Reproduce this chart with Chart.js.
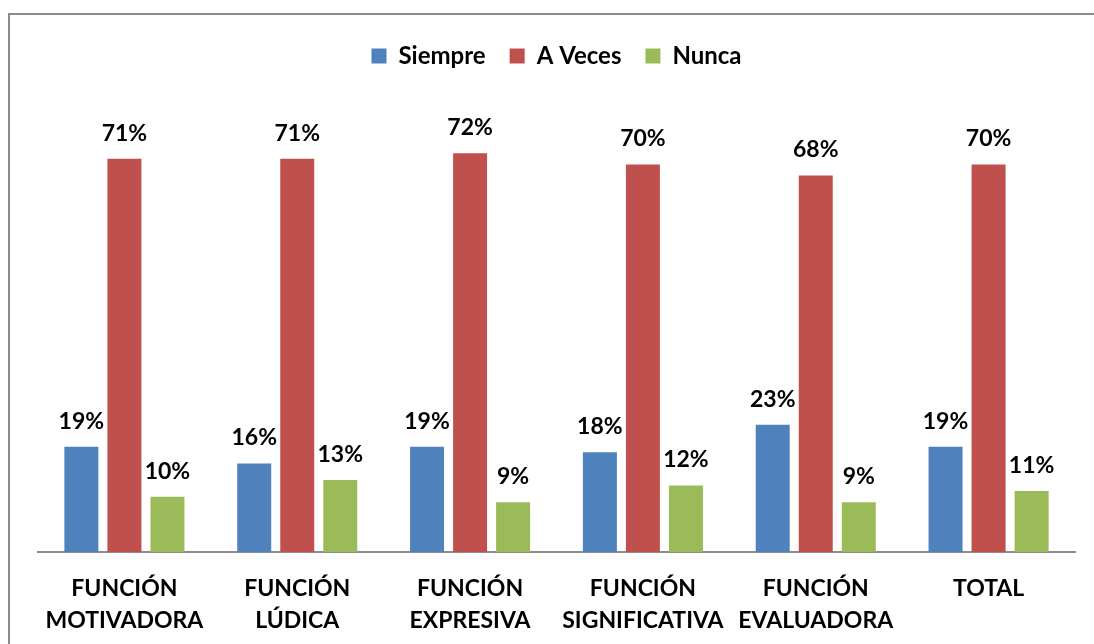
<!DOCTYPE html>
<html>
<head>
<meta charset="utf-8">
<script src="https://cdn.jsdelivr.net/npm/chart.js@4"></script>
<style>
  html,body{margin:0;padding:0;background:#fff;}
  #wrap{position:relative;width:1094px;height:644px;}
  #frame{position:absolute;left:8px;top:13px;width:1100px;height:660px;border-left:2px solid #8c8c8c;border-top:2px solid #8c8c8c;}
  canvas{position:absolute;left:0;top:0;}
</style>
</head>
<body>
<div id="wrap">
  <div id="frame"></div>
  <canvas id="chart" width="1094" height="644"></canvas>
</div>
<script>
// ====== datos ======
const categorias = [["FUNCIÓN","MOTIVADORA"],["FUNCIÓN","LÚDICA"],["FUNCIÓN","EXPRESIVA"],["FUNCIÓN","SIGNIFICATIVA"],["FUNCIÓN","EVALUADORA"],["TOTAL"]];
const siempre = [19,16,19,18,23,19];
const aVeces  = [71,71,72,70,68,70];
const nunca   = [10,13,9,12,9,11];
const series  = ["Siempre","A Veces","Nunca"];
const colores = ["#4F81BD","#C0504D","#9BBB59"];

const FONT = "Lato, 'Open Sans', sans-serif";

// etiquetas de porcentaje encima de cada barra
const etiquetas = {
  id:"etiquetas",
  afterDatasetsDraw(chart){
    const ctx=chart.ctx;
    ctx.save();
    ctx.font="bold 23px "+FONT;
    ctx.fillStyle="#000";
    ctx.textAlign="center";
    ctx.textBaseline="bottom";
    chart.data.datasets.forEach((ds,i)=>{
      chart.getDatasetMeta(i).data.forEach((bar,j)=>{
        ctx.fillText(ds.data[j]+"%", bar.x, bar.y-14);
      });
    });
    ctx.restore();
  }
};

// espacio extra bajo la leyenda
const espacioLeyenda = {
  id:"espacioLeyenda",
  beforeInit(chart){
    const fit = chart.legend.fit;
    chart.legend.fit = function(){ fit.bind(chart.legend)(); this.height += 31; };
  }
};

new Chart(document.getElementById("chart"),{
  type:"bar",
  data:{
    labels:categorias,
    datasets:[siempre,aVeces,nunca].map((d,i)=>({
      label:series[i], data:d, backgroundColor:colores[i],
      categoryPercentage:0.747, barPercentage:0.79
    }))
  },
  options:{
    responsive:false,
    animation:false,
    layout:{padding:{left:38,right:19,top:20,bottom:0}},
    plugins:{
      legend:{
        position:"top",
        labels:{font:{family:FONT,size:24,weight:"bold"},color:"#000",boxWidth:15,boxHeight:15,padding:24},
      },
      tooltip:{enabled:false}
    },
    scales:{
      y:{display:false,min:0,max:80},
      x:{
        grid:{display:false},
        border:{color:"#8c8c8c",width:2},
        afterFit(scale){ scale.height = 92; },
        ticks:{font:{family:FONT,size:23,weight:"bold",lineHeight:1.4},color:"#000",padding:12,maxRotation:0,autoSkip:false}
      }
    }
  },
  plugins:[etiquetas, espacioLeyenda]
});
</script>
</body>
</html>
